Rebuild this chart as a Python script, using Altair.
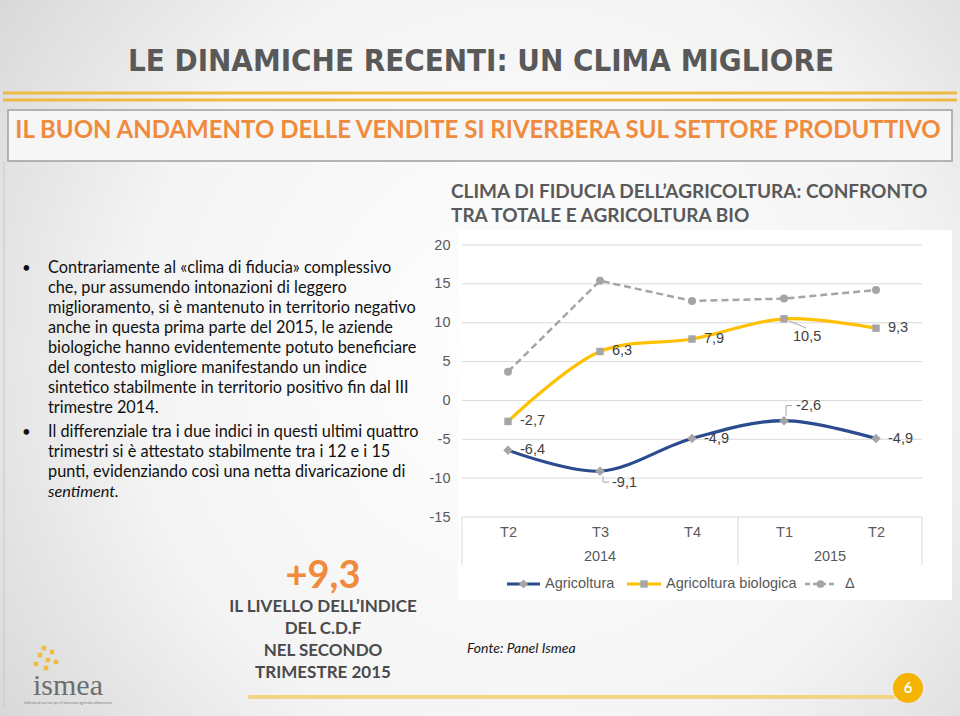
import json
import altair as alt
import pandas as pd

# ---------------- data ----------------
periods = ["T2", "T3", "T4", "T1", "T2"]
years = ["2014", "2014", "2014", "2015", "2015"]
agricoltura = [-6.4, -9.1, -4.9, -2.6, -4.9]
biologica = [-2.7, 6.3, 7.9, 10.5, 9.3]
delta = [3.7, 15.4, 12.8, 13.1, 14.2]
y_ticks = [-15, -10, -5, 0, 5, 10, 15, 20]
series_names = ["Agricoltura", "Agricoltura biologica", "Δ"]

bullet_1 = [
    "Contrariamente al «clima di fiducia» complessivo",
    "che, pur assumendo intonazioni di leggero",
    "miglioramento, si è mantenuto in territorio negativo",
    "anche in questa prima parte del 2015, le aziende",
    "biologiche hanno evidentemente potuto beneficiare",
    "del contesto migliore manifestando un indice",
    "sintetico stabilmente in territorio positivo fin dal III",
    "trimestre 2014.",
]
bullet_2 = [
    "Il differenziale tra i due indici in questi ultimi quattro",
    "trimestri si è attestato stabilmente tra i 12 e i 15",
    "punti, evidenziando così una netta divaricazione di",
]
bullet_2_italic = "sentiment."
highlight_value = "+9,3"
highlight_lines = ["IL LIVELLO DELL’INDICE", "DEL C.D.F", "NEL SECONDO", "TRIMESTRE 2015"]
chart_title = ["CLIMA DI FIDUCIA DELL’AGRICOLTURA: CONFRONTO", "TRA TOTALE E AGRICOLTURA BIO"]
slide_title = "LE DINAMICHE RECENTI: UN CLIMA MIGLIORE"
slide_subtitle = "IL BUON ANDAMENTO DELLE VENDITE SI RIVERBERA SUL SETTORE PRODUTTIVO"
source_note = "Fonte: Panel Ismea"
page_number = "6"

# ---------------- styling ----------------
BLUE = "#2A4B8D"
GOLD = "#FFC000"
GREY = "#A5A5A5"
ORANGE = "#F08A3C"
CHART_FONT = "Liberation Sans"
SLIDE_FONT = "Lato"
NARROW = "Liberation Sans Narrow, DejaVu Sans Condensed, Liberation Sans"
AXIS_SIZE = 14.5

W, H = 460, 272          # plot area
OX, OY = 462, 245        # plot origin in the page


def fmt(v):
    return f"{v:.1f}".replace(".", ",")


rows = []
for name, vals in zip(series_names, [agricoltura, biologica, delta]):
    for i, v in enumerate(vals):
        rows.append({"idx": i, "period": periods[i], "year": years[i],
                     "series": name, "value": v, "label": fmt(v)})
df = pd.DataFrame(rows)

label_place = {
    "Agricoltura": ["right", "below", "right", "above", "right"],
    "Agricoltura biologica": ["right", "right", "right", "below_far", "right"],
}
place_offsets = {"right": (12, 0), "below": (12, 12), "above": (12, -15), "below_far": (9, 18)}
df["place"] = [label_place.get(r.series, ["none"] * 5)[r.idx] for r in df.itertuples()]

# year groups and separators derived from the year list
year_groups = pd.DataFrame({"year": sorted(set(years))})
year_groups["center"] = [sum(i for i, y in enumerate(years) if y == yr) / years.count(yr)
                         for yr in year_groups["year"]]
seps = [-0.5] + [i + 0.5 for i in range(len(years) - 1) if years[i] != years[i + 1]] + [len(years) - 0.5]
sep_df = pd.DataFrame({"pos": seps})
tick_df = pd.DataFrame({"tick": y_ticks})

xscale = alt.Scale(domain=[-0.5, len(periods) - 0.5], nice=False, zero=False)
yscale = alt.Scale(domain=[-15, 20], nice=False, zero=False)

x_axis = alt.Axis(values=list(range(len(periods))),
                  labelExpr=f"{json.dumps(periods)}[datum.value]",
                  grid=False, domain=False, ticks=False, labelPadding=8, zindex=1,
                  labelFont=CHART_FONT, labelFontSize=AXIS_SIZE, labelColor="#595959", title=None)
y_axis = alt.Axis(values=y_ticks, labelExpr="datum.value + ''", grid=False,
                  domain=False, ticks=False, zindex=1,
                  labelPadding=12, labelFont=CHART_FONT, labelFontSize=AXIS_SIZE,
                  labelColor="#595959", title=None)

one = pd.DataFrame({"k": [0]})


def X(field):
    return alt.X(field, scale=xscale, axis=x_axis)


def Y(field):
    return alt.Y(field, scale=yscale, axis=y_axis)


def px(x):
    return alt.value(x - OX)


def py(y):
    return alt.value(y - OY)


def text_layer(s, x, y, size, color, font=SLIDE_FONT, weight="normal", align="left",
               style="normal"):
    return alt.Chart(one).mark_text(
        text=s, font=font, fontSize=size, color=color, fontWeight=weight,
        align=align, baseline="middle", fontStyle=style
    ).encode(x=px(x), y=py(y))


def rect_layer(x1, x2, y1, y2, **kw):
    return alt.Chart(one).mark_rect(**kw).encode(x=px(x1), x2=px(x2), y=py(y1), y2=py(y2))


def hrule(x1, x2, y, color, width, dash=None):
    kw = dict(color=color, strokeWidth=width)
    if dash:
        kw["strokeDash"] = dash
    return alt.Chart(one).mark_rule(**kw).encode(x=px(x1), x2=px(x2), y=py(y))


layers = []

# page background
layers.append(rect_layer(0, 960, 0, 716, fill=alt.RadialGradient(
    gradient="radial", x1=0.55, y1=0.5, x2=0.55, y2=0.5, r1=0, r2=0.75,
    stops=[alt.GradientStop(offset=0, color="#FFFFFF"),
           alt.GradientStop(offset=0.55, color="#F4F4F4"),
           alt.GradientStop(offset=1, color="#CFCFCF")])))

# header
layers.append(text_layer(slide_title, 481, 62, 31, "#595959", font=NARROW, weight="bold", align="center"))
layers.append(hrule(3, 957, 93, "#EDBB45", 3))
layers.append(hrule(3, 957, 100, "#EDBB45", 3))
layers.append(rect_layer(8, 952, 110, 161, fill="#F6F6F6", stroke="#9E9E9E", strokeWidth=1.5))
layers.append(text_layer(slide_subtitle, 478, 131, 24, ORANGE, weight="bold", align="center"))
layers.append(alt.Chart(one).mark_rule(color="#C8C8C8", strokeWidth=1).encode(
    x=px(4), y=py(162), y2=py(708)))

# bullet text
for i, line in enumerate(bullet_1):
    layers.append(text_layer(line, 48, 268 + 20 * i, 16.3, "#111111"))
for i, line in enumerate(bullet_2):
    layers.append(text_layer(line, 48, 432 + 20 * i, 16.3, "#111111"))
layers.append(text_layer(bullet_2_italic, 48, 432 + 20 * len(bullet_2), 16.3, "#111111", style="italic"))
layers.append(text_layer("•", 22, 268, 15, "#111111"))
layers.append(text_layer("•", 22, 432, 15, "#111111"))

# highlight block
layers.append(text_layer(highlight_value, 323, 577, 38, ORANGE, weight="bold", align="center"))
for i, line in enumerate(highlight_lines):
    layers.append(text_layer(line, 323, 607 + 22 * i, 17, "#4A4A4A", weight="bold", align="center"))

# logo (approximation)
for (lx, ly) in [(40, 655), (44, 648), (48, 660), (52, 652), (36, 664), (56, 662), (46, 668)]:
    layers.append(alt.Chart(one).mark_square(color="#F2B632", size=20, opacity=0.9).encode(x=px(lx), y=py(ly)))
layers.append(text_layer("ismea", 68, 686, 30, "#6E6E6E", font="Liberation Serif", align="center"))
layers.append(text_layer("Istituto di servizi per il mercato agricolo alimentare", 68, 703, 4, "#808080", align="center"))

# footer
layers.append(text_layer(source_note, 467, 649, 14, "#1A1A1A", style="italic"))
layers.append(hrule(248, 895, 697, "#EFD586", 4))
layers.append(alt.Chart(one).mark_point(shape="circle", filled=True, size=900, color="#F5B400", opacity=1).encode(
    x=px(908), y=py(688)))
layers.append(text_layer(page_number, 908, 688, 15, "#FFFFFF", weight="bold", align="center"))

# chart panel
layers.append(rect_layer(458, 952, 230, 600, fill="#FFFFFF"))
for i, line in enumerate(chart_title):
    layers.append(text_layer(line, 451, 192 + 24 * i, 19, "#595959", weight="bold"))

# gridlines
layers.append(alt.Chart(tick_df).mark_rule(color="#D9D9D9", strokeWidth=1).encode(
    y=Y("tick:Q"), x=alt.value(0), x2=alt.value(W)))

# separators below the axis
layers.append(alt.Chart(sep_df).mark_rule(color="#D9D9D9", strokeWidth=1).encode(
    x=X("pos:Q"), y=alt.value(H), y2=alt.value(H + 48)))

# year labels
layers.append(alt.Chart(year_groups).mark_text(font=CHART_FONT, fontSize=AXIS_SIZE, color="#595959",
                                               baseline="middle").encode(
    x=X("center:Q"), y=alt.value(H + 40), text="year:N"))

base = alt.Chart(df)

# lines
agri_line = base.transform_filter(alt.datum.series == "Agricoltura").mark_line(
    interpolate="catmull-rom", strokeWidth=3.2, color=BLUE).encode(x=X("idx:Q"), y=Y("value:Q"))
bio_line = base.transform_filter(alt.datum.series == "Agricoltura biologica").mark_line(
    interpolate="catmull-rom", strokeWidth=3.2, color=GOLD).encode(x=X("idx:Q"), y=Y("value:Q"))
delta_line = base.transform_filter(alt.datum.series == "Δ").mark_line(
    strokeWidth=2.5, color=GREY, strokeDash=[7, 4]).encode(x=X("idx:Q"), y=Y("value:Q"))
layers += [delta_line, bio_line, agri_line]

# markers
marker_shape = {"Agricoltura": ("diamond", 90), "Agricoltura biologica": ("square", 55), "Δ": ("circle", 64)}
for name, (shape, size) in marker_shape.items():
    layers.append(base.transform_filter(alt.datum.series == name).mark_point(
        shape=shape, size=size, filled=True, color=GREY, opacity=1).encode(x=X("idx:Q"), y=Y("value:Q")))

# leader lines
leaders = [
    ("Agricoltura", 1, [(3, 5, 3, 11), (3, 11, 9, 11)]),
    ("Agricoltura", 3, [(2, -5, 2, -15), (2, -15, 8, -15)]),
    ("Agricoltura biologica", 3, [(5, 2, 22, 9)]),
]
for name, idx, segs in leaders:
    for (ax, ay, bx, by) in segs:
        layers.append(base.transform_filter((alt.datum.series == name) & (alt.datum.idx == idx)).mark_rule(
            color="#A6A6A6", strokeWidth=1, xOffset=ax, x2Offset=bx, yOffset=ay, y2Offset=by).encode(
            x=X("idx:Q"), x2="idx:Q", y=Y("value:Q"), y2="value:Q"))

# data labels
for place, (dx, dy) in place_offsets.items():
    layers.append(base.transform_filter(alt.datum.place == place).mark_text(
        align="left", baseline="middle", dx=dx, dy=dy, font=CHART_FONT, fontSize=14.5,
        color="#404040").encode(x=X("idx:Q"), y=Y("value:Q"), text="label:N"))

# legend
legend_items = [
    ("Agricoltura", 507, 540, 545, BLUE, 3.2, None, "diamond", 80),
    ("Agricoltura biologica", 627, 661, 666, GOLD, 3.2, None, "square", 55),
    ("Δ", 805, 836, 845, GREY, 2.5, [5, 3], "circle", 60),
]
LY = 584
for name, a, b, t, col, wdt, dash, shape, size in legend_items:
    layers.append(hrule(a, b, LY, col, wdt, dash))
    layers.append(alt.Chart(one).mark_point(shape=shape, size=size, filled=True, color=GREY, opacity=1).encode(
        x=px((a + b) / 2), y=py(LY)))
    layers.append(text_layer(name, t, LY, 14.5, "#595959", font=CHART_FONT))

chart = alt.layer(*layers).properties(
    width=W, height=H,
    padding={"left": OX, "top": OY, "right": 960 - OX - W, "bottom": 716 - OY - H},
    autosize=alt.AutoSizeParams(type="none"),
).configure_view(stroke=None).configure(background="#E8E8E8")

chart.save("out.html", embed_options={"renderer": "svg", "actions": False})
